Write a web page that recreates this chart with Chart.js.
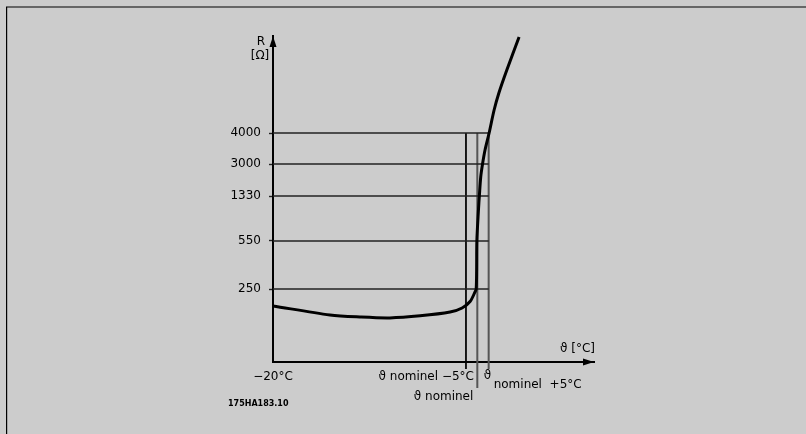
<!DOCTYPE html>
<html>
<head>
<meta charset="utf-8">
<script src="https://cdn.jsdelivr.net/npm/chart.js@4"></script>
<style>
  html, body { margin: 0; padding: 0; background: #cccccc; }
</style>
</head>
<body>
<canvas id="chart" width="806" height="434"></canvas>
<script>
// temperature ticks (°C, nominal taken as 70) and their labels
const tempTicks = [-20, 65, 70, 75];
const tempLabels = ['\u221220°C', '\u03d1 nominel \u22125°C', '\u03d1 nominel', '\u03d1\nnominel  +5°C'];

// resistance ticks (Ω)
const resTicks = [250, 550, 1330, 3000, 4000];

// PTC curve
const curveTemp = [-20, 5.1, 18.3, 31.5, 44.8, 58.0, 63.3, 66.8, 69.0, 69.5, 69.7, 69.8, 70.5, 70.9, 71.5, 72.3, 73.4, 75.2, 77.4, 79.5, 83.0, 88.4];
const curveRes = [192, 161, 154, 151, 158, 171, 185, 207, 240, 250, 369, 550, 1087, 1330, 2322, 3000, 3452, 4000, 4742, 5290, 6032, 7097];

// the R axis is schematic: piecewise between its ticks
const axisR = [0, 250, 550, 1330, 3000, 4000];
const axisH = [0, 73, 121, 166, 198, 229];
function rToAxis(r) {
    let i = 1;
    while (i < axisR.length - 1 && r > axisR[i]) i++;
    const r0 = axisR[i - 1], r1 = axisR[i], h0 = axisH[i - 1], h1 = axisH[i];
    return h0 + (r - r0) * (h1 - h0) / (r1 - r0);
}

const FONT = '"DejaVu Sans", sans-serif';
const topRes = rToAxis(resTicks[resTicks.length - 1]);

const datasets = [{
    data: curveTemp.map((t, i) => ({x: t, y: rToAxis(curveRes[i])})),
    borderColor: '#000',
    borderWidth: 3,
    tension: 0.3,
    pointRadius: 0,
    clip: false,
}];

// horizontal guides from the R axis to nominal +5
resTicks.forEach(r => {
    datasets.push({
        data: [{x: tempTicks[0], y: rToAxis(r)}, {x: tempTicks[3], y: rToAxis(r)}],
        borderColor: '#222',
        borderWidth: 1.4,
        pointRadius: 0,
    });
});

// vertical guides down through the temperature axis
const guideStyle = [
    {color: '#000', width: 1, drop: -7},
    {color: '#555', width: 2, drop: -26},
    {color: '#555', width: 2, drop: -7},
];
tempTicks.slice(1).forEach((t, i) => {
    datasets.push({
        data: [{x: t, y: topRes}, {x: t, y: guideStyle[i].drop}],
        borderColor: guideStyle[i].color,
        borderWidth: guideStyle[i].width,
        pointRadius: 0,
        clip: false,
    });
});

const frame = {
    id: 'frame',
    beforeDraw: (chart) => {
        const ctx = chart.ctx;
        ctx.save();
        ctx.fillStyle = '#cccccc';
        ctx.fillRect(0, 0, chart.width, chart.height);
        ctx.fillStyle = '#666';
        ctx.fillRect(6, 6, chart.width - 6, 2);
        ctx.fillStyle = '#000';
        ctx.fillRect(6, 7, 1.2, chart.height - 7);
        ctx.restore();
    }
};

const decorations = {
    id: 'decorations',
    afterDraw: (chart) => {
        const ctx = chart.ctx;
        const {left, right, top, bottom} = chart.chartArea;
        const xs = chart.scales.x;
        const px = v => xs.getPixelForValue(v);
        ctx.save();
        ctx.fillStyle = '#000';

        // arrow heads
        ctx.beginPath();
        ctx.moveTo(left, top);
        ctx.lineTo(left - 3.5, top + 11);
        ctx.lineTo(left + 3.5, top + 11);
        ctx.closePath();
        ctx.fill();
        ctx.beginPath();
        ctx.moveTo(right, bottom);
        ctx.lineTo(right - 11, bottom - 3.5);
        ctx.lineTo(right - 11, bottom + 3.5);
        ctx.closePath();
        ctx.fill();

        const text = (s, x, y, align) => {
            ctx.textAlign = align;
            ctx.fillText(s, x, y);
        };
        ctx.font = '12px ' + FONT;
        ctx.textBaseline = 'middle';

        // axis titles
        text('R', left - 12, top + 6, 'center');
        text('[\u03a9]', left - 13, top + 20, 'center');
        text('\u03d1 [°C]', right - 34, bottom - 13, 'left');

        // temperature labels
        text(tempLabels[0], px(tempTicks[0]), bottom + 15, 'center');
        text(tempLabels[1], px(tempTicks[1]) + 8, bottom + 15, 'right');
        text(tempLabels[2], px(tempTicks[2]) - 4, bottom + 35, 'right');
        const [sym, rest] = tempLabels[3].split('\n');
        text(sym, px(tempTicks[3]) - 5, bottom + 14, 'left');
        text(rest, px(tempTicks[3]) + 5, bottom + 23, 'left');

        // drawing number
        ctx.font = 'bold 8px ' + FONT;
        text('175HA183.10', 228, bottom + 42, 'left');
        ctx.restore();
    }
};

new Chart(document.getElementById('chart'), {
    type: 'line',
    data: {datasets},
    options: {
        responsive: false,
        animation: false,
        layout: {padding: {left: 0, right: 212, top: 36, bottom: 0}},
        plugins: {legend: {display: false}, tooltip: {enabled: false}},
        scales: {
            x: {
                type: 'linear',
                min: -20,
                max: 121.4,
                afterFit: (scale) => { scale.height = 72; },
                grid: {display: false},
                ticks: {display: false},
                border: {display: true, color: '#000', width: 2},
            },
            y: {
                type: 'linear',
                min: 0,
                max: 326,
                afterFit: (scale) => { scale.width = 273; },
                afterBuildTicks: (scale) => {
                    scale.ticks = resTicks.map(r => ({value: rToAxis(r)}));
                },
                ticks: {
                    color: '#000',
                    padding: 8,
                    font: {family: FONT, size: 12},
                    callback: (value, index) => String(resTicks[index]),
                },
                grid: {drawOnChartArea: false, drawTicks: true, tickLength: 4, color: '#222', tickWidth: 1.4},
                border: {display: true, color: '#000', width: 2},
            },
        },
    },
    plugins: [frame, decorations],
});
</script>
</body>
</html>
